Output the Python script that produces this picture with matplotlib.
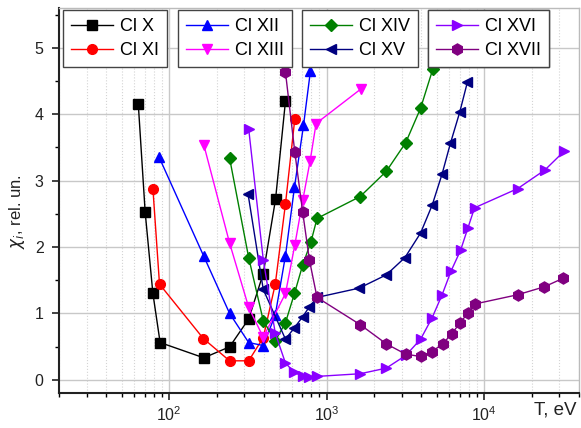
import matplotlib
matplotlib.use("Agg")
import matplotlib.pyplot as plt
from matplotlib.ticker import LogLocator, MultipleLocator, NullFormatter

plt.rcParams['font.family'] = ['Liberation Sans', 'DejaVu Sans']

# ---- data (T in eV, chi_i in rel. units) ----
clx_T = [63.7, 70.5, 78.9, 87.7, 166, 242, 320, 396, 474, 548]
clx_y = [4.16, 2.52, 1.30, 0.56, 0.33, 0.495, 0.915, 1.60, 2.72, 4.20]

clxi_T = [78.9, 86.9, 165, 242, 320, 396, 472, 548, 628]
clxi_y = [2.88, 1.44, 0.62, 0.285, 0.285, 0.635, 1.44, 2.65, 3.93]

clxii_T = [86.5, 166, 242, 320, 396, 472, 548, 625, 713, 789]
clxii_y = [3.35, 1.86, 1.00, 0.56, 0.515, 0.976, 1.87, 2.90, 3.83, 4.65]

clxiii_T = [166, 242, 320, 396, 548, 628, 705, 786, 857, 1650]
clxiii_y = [3.54, 2.06, 1.09, 0.64, 1.30, 2.03, 2.70, 3.30, 3.86, 4.38]

clxiv_T = [242, 320, 396, 472, 548, 625, 705, 796, 869, 1633, 2393, 3175, 3948, 4722]
clxiv_y = [3.34, 1.84, 0.89, 0.585, 0.86, 1.30, 1.73, 2.08, 2.43, 2.76, 3.14, 3.57, 4.09, 4.68]

clxv_T = [317, 396, 548, 625, 705, 778, 869, 1609, 2393, 3140, 3948, 4677, 5408, 6104, 6996, 7820]
clxv_y = [2.80, 1.36, 0.61, 0.785, 0.95, 1.10, 1.24, 1.38, 1.58, 1.84, 2.21, 2.63, 3.10, 3.56, 4.03, 4.48]

clxvi_T = [320, 396, 472, 548, 625, 705, 778, 869, 1633, 2393, 3175, 3948, 4677, 5408, 6170,
           7083, 7870, 8690, 16340, 24300, 32100]
clxvi_y = [3.78, 1.81, 0.70, 0.25, 0.11, 0.05, 0.035, 0.05, 0.09, 0.175, 0.365, 0.61, 0.935, 1.28,
           1.64, 1.95, 2.28, 2.59, 2.88, 3.16, 3.44]

clxvii_T = [548, 628, 705, 778, 869, 1633, 2393, 3175, 3948, 4677, 5450, 6220, 6990, 7860, 8690,
            16300, 24100, 31800]
clxvii_y = [4.63, 3.43, 2.52, 1.80, 1.24, 0.83, 0.54, 0.385, 0.35, 0.425, 0.54, 0.69, 0.85, 1.00,
            1.14, 1.28, 1.40, 1.53]

labels = ['Cl X', 'Cl XI', 'Cl XII', 'Cl XIII', 'Cl XIV', 'Cl XV', 'Cl XVI', 'Cl XVII']
series = [(clx_T, clx_y), (clxi_T, clxi_y), (clxii_T, clxii_y), (clxiii_T, clxiii_y),
          (clxiv_T, clxiv_y), (clxv_T, clxv_y), (clxvi_T, clxvi_y), (clxvii_T, clxvii_y)]
colors = ['#000000', '#ff0000', '#0000ff', '#ff00ff', '#008000', '#000080', '#8a00ff', '#800080']
markers = ['s', 'o', '^', 'v', 'D', '<', '>', 'h']
msizes = [6.5, 7, 7.5, 7.5, 6, 7.5, 7.5, 8]

fig = plt.figure(figsize=(5.81, 4.28), dpi=100)
ax = fig.add_axes([59/581, 1-393/428, (579-59)/581, (393-8)/428])

handles = []
for (T, y), c, m, ms, lab in zip(series, colors, markers, msizes, labels):
    h, = ax.plot(T, y, color=c, marker=m, markersize=ms, linewidth=1.0,
                 markeredgecolor=c, markerfacecolor=c, label=lab, zorder=3)
    handles.append(h)

ax.set_xscale('log')
ax.set_xlim(20, 40000)
ax.set_ylim(-0.2, 5.6)

ax.xaxis.set_major_locator(LogLocator(base=10, numticks=10))
ax.xaxis.set_minor_locator(LogLocator(base=10, subs=range(2, 10), numticks=20))
ax.xaxis.set_minor_formatter(NullFormatter())
ax.yaxis.set_major_locator(MultipleLocator(1))
ax.yaxis.set_minor_locator(MultipleLocator(0.5))

ax.grid(True, which='major', color='#c8c8c8', linewidth=1.0, linestyle='-', zorder=0)
ax.grid(True, which='minor', axis='x', color='#d4d4d4', linewidth=0.8, linestyle=':', zorder=0)
ax.set_axisbelow(True)

for s in ['left', 'bottom']:
    ax.spines[s].set_color('#222222')
    ax.spines[s].set_linewidth(1.5)
for s in ['top', 'right']:
    ax.spines[s].set_color('#bbbbbb')
    ax.spines[s].set_linewidth(1.0)

ax.tick_params(which='major', direction='out', length=5, width=1.2, labelsize=11.5,
               colors='#222222', top=False, right=False)
ax.tick_params(which='minor', direction='out', length=3, width=1.0, top=False, right=False)
ax.tick_params(axis='y', which='major', pad=6)

fig.text(17/581, 1-212/428, r'$\chi_i$, rel. un.', rotation=90, ha='center', va='center',
         fontsize=12, color='#222222')
fig.text(577/581, 1-410/428, 'T, eV', ha='right', va='center', fontsize=13.5, color='#222222')

lefts = [63, 178, 302, 428]
for i, lx in enumerate(lefts):
    leg = ax.legend(handles=handles[2*i:2*i+2], loc='upper left',
                    bbox_to_anchor=(lx/581, 1-10/428), bbox_transform=fig.transFigure,
                    borderaxespad=0, fancybox=False, framealpha=1, edgecolor='#444444',
                    fontsize=13, handlelength=2.3, labelspacing=0.4, borderpad=0.45,
                    handletextpad=0.4)
    leg.get_frame().set_linewidth(1.0)
    leg.set_zorder(5)
    ax.add_artist(leg)

fig.savefig('out.png', dpi=100)
